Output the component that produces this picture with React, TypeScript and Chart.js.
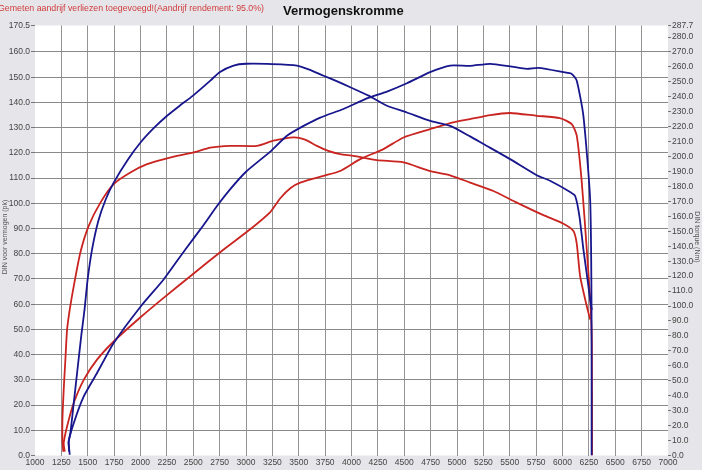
import React, { useEffect, useRef } from "react";
import { Chart, registerables } from "chart.js";

Chart.register(...registerables);

// ---- axis ticks ----
const rpmTicks = [1000, 1250, 1500, 1750, 2000, 2250, 2500, 2750, 3000, 3250, 3500, 3750, 4000, 4250, 4500, 4750, 5000, 5250, 5500, 5750, 6000, 6250, 6500, 6750, 7000];
const pkTicks = [0, 10, 20, 30, 40, 50, 60, 70, 80, 90, 100, 110, 120, 130, 140, 150, 160, 170.5];
const nmTicks = [0, 10, 20, 30, 40, 50, 60, 70, 80, 90, 100, 110, 120, 130, 140, 150, 160, 170, 180, 190, 200, 210, 220, 230, 240, 250, 260, 270, 280, 287.7];

// ---- tuned (blue) power, pk ----
const bluePowerRpm = [1325, 1319, 1367, 1462, 1588, 1746, 2000, 2219, 2425, 2600, 2725, 2851, 3000, 3230, 3388, 3546, 3704, 3924, 4146, 4336, 4525, 4745, 4935, 5124, 5316, 5503, 5661, 5772, 6009, 6088, 6135, 6198, 6262, 6275, 6276];
const bluePowerPk = [1.5, 5.5, 12.8, 23.4, 32.7, 44.6, 59, 69.8, 81.7, 91.5, 98.9, 105.6, 112.5, 120.5, 126.8, 130.7, 134, 137.4, 141.6, 144.3, 147.6, 152, 154.6, 154.5, 155.3, 154.3, 153.3, 153.7, 152, 151.3, 148.6, 134.7, 101.6, 60, 0];

// ---- tuned (blue) torque, Nm ----
const blueTorqueRpm = [1329, 1319, 1335, 1365, 1399, 1440, 1470, 1499, 1541, 1600, 1670, 1746, 1875, 2000, 2125, 2252, 2375, 2498, 2662, 2750, 2882, 3000, 3250, 3483, 3600, 3735, 3870, 3988, 4162, 4336, 4525, 4745, 4935, 5124, 5251, 5503, 5756, 5882, 6072, 6120, 6160, 6198, 6240, 6262, 6278];
const blueTorqueNm = [0.5, 9.3, 14.8, 33.7, 55.2, 81.0, 97.9, 117.8, 137.9, 156.9, 171.3, 182.6, 197.4, 209.4, 219.0, 227.3, 234.2, 240.8, 250.8, 256.5, 260.9, 262.1, 261.9, 260.9, 258.2, 254.1, 250.1, 246.4, 240.8, 234.0, 229.5, 223.9, 220.5, 213.5, 208.4, 198.3, 187.5, 183.8, 176.3, 173.6, 160.3, 137.9, 116.4, 104.3, 97.5];

// ---- stock (red) power, pk ----
const redPowerRpm = [1282, 1272, 1304, 1367, 1462, 1588, 1746, 2000, 2219, 2472, 2788, 3040, 3230, 3325, 3420, 3514, 3735, 3893, 4082, 4303, 4493, 4745, 4935, 5124, 5316, 5503, 5756, 5975, 6088, 6135, 6183, 6230, 6265, 6278, 6280];
const redPowerPk = [1.5, 4.9, 11.5, 20.8, 30, 38, 45.2, 54.8, 62.5, 71.1, 81.7, 89.7, 96.5, 102, 106, 108.2, 110.9, 112.8, 117.5, 121.5, 126.1, 129.4, 131.8, 133.4, 135, 135.8, 134.7, 133.8, 131.4, 126.8, 108.2, 81.7, 60, 45, 0];

// ---- stock (red) torque, Nm ----
const redTorqueRpm = [1268, 1260, 1260, 1272, 1288, 1304, 1330, 1367, 1430, 1509, 1620, 1746, 1904, 2062, 2252, 2503, 2662, 2851, 3104, 3261, 3451, 3560, 3672, 3780, 3893, 4019, 4240, 4493, 4745, 4935, 5124, 5345, 5567, 5819, 6009, 6104, 6135, 6167, 6220, 6262];
const redTorqueNm = [2.5, 10.1, 23.6, 43.9, 64.1, 84.2, 97.9, 113.2, 135.8, 153.6, 169.2, 181.6, 189.3, 194.9, 198.8, 202.8, 206.0, 207.2, 207.2, 210.6, 212.8, 211.3, 207.2, 203.8, 201.6, 200.5, 197.6, 196.1, 190.3, 187.5, 182.6, 177.0, 169.2, 160.8, 155.1, 150.2, 141.7, 120.0, 102.9, 91.0];

const noteText = "Gemeten aandrijf verliezen toegevoegd!(Aandrijf rendement: 95.0%)";
const titleText = "Vermogenskromme";
const leftTitle = "DIN voor vermogen (pk)";
const rightTitle = "DIN torque (Nm)";

const BLUE = "#17168c";
const RED = "#c92420";
const FONT = "'Liberation Sans', Arial, sans-serif";

const pts = (xs: number[], ys: number[]) => xs.map((x, i) => ({ x, y: ys[i] }));

const decorPlugin = {
  id: "decor",
  beforeDraw(chart: any) {
    const { ctx, chartArea: a, width, height } = chart;
    ctx.save();
    ctx.fillStyle = "#e6e6ea";
    ctx.fillRect(0, 0, width, height);
    ctx.fillStyle = "#ffffff";
    ctx.fillRect(a.left, a.top, a.right - a.left, a.bottom - a.top);
    ctx.restore();
  },
  afterDraw(chart: any) {
    const { ctx } = chart;
    ctx.save();
    ctx.textBaseline = "alphabetic";
    ctx.fillStyle = "#d03a3a";
    ctx.font = `8.8px ${FONT}`;
    ctx.textAlign = "left";
    ctx.fillText(noteText, -2, 11);
    ctx.fillStyle = "#111111";
    ctx.font = `bold 13px ${FONT}`;
    ctx.fillText(titleText, 283, 15);
    ctx.fillStyle = "#555555";
    ctx.font = `7px ${FONT}`;
    ctx.textAlign = "center";
    ctx.textBaseline = "middle";
    ctx.translate(5, 237);
    ctx.rotate(-Math.PI / 2);
    ctx.fillText(leftTitle, 0, 0);
    ctx.restore();
    ctx.save();
    ctx.fillStyle = "#555555";
    ctx.font = `7px ${FONT}`;
    ctx.textAlign = "center";
    ctx.textBaseline = "middle";
    ctx.translate(697, 237);
    ctx.rotate(Math.PI / 2);
    ctx.fillText(rightTitle, 0, 0);
    ctx.restore();
  },
};

export default function App() {
  const ref = useRef<HTMLCanvasElement | null>(null);
  useEffect(() => {
    if (!ref.current) return;
    const line = (label: string, data: any, color: string, axis: string) => ({
      label,
      data,
      borderColor: color,
      backgroundColor: color,
      borderWidth: 1.8,
      pointRadius: 0,
      tension: 0.2,
      yAxisID: axis,
      fill: false,
    });
    const chart = new Chart(ref.current, {
      type: "line",
      data: {
        datasets: [
          line("Vermogen (getuned)", pts(bluePowerRpm, bluePowerPk), BLUE, "y"),
          line("Koppel (getuned)", pts(blueTorqueRpm, blueTorqueNm), BLUE, "y2"),
          line("Vermogen (standaard)", pts(redPowerRpm, redPowerPk), RED, "y"),
          line("Koppel (standaard)", pts(redTorqueRpm, redTorqueNm), RED, "y2"),
        ],
      },
      plugins: [decorPlugin],
      options: {
        animation: false,
        responsive: false,
        parsing: true,
        layout: { padding: { top: 25.5, left: 0, right: 0, bottom: 0 } },
        plugins: { legend: { display: false }, tooltip: { enabled: false }, title: { display: false } },
        scales: {
          x: {
            type: "linear",
            min: 1000,
            max: 7000,
            afterBuildTicks: (s: any) => { s.ticks = rpmTicks.map((v) => ({ value: v })); },
            afterFit: (s: any) => { s.height = 14.5; },
            ticks: {
              autoSkip: false,
              maxRotation: 0,
              padding: 2,
              color: "#444",
              font: { family: FONT, size: 8.5 },
              callback: (v: any) => String(v),
            },
            grid: {
              color: (c: any) => (c.tick && (c.tick.value === 1000 || c.tick.value === 7000) ? "rgba(0,0,0,0)" : "#949494"),
              lineWidth: 1,
              drawTicks: false,
            },
            border: { display: false },
          },
          y: {
            type: "linear",
            position: "left",
            min: 0,
            max: 170.5,
            afterBuildTicks: (s: any) => { s.ticks = pkTicks.map((v) => ({ value: v })); },
            afterFit: (s: any) => { s.width = 35; },
            ticks: {
              autoSkip: false,
              padding: 1,
              color: "#444",
              font: { family: FONT, size: 8.5 },
              callback: (v: any) => Number(v).toFixed(1),
            },
            grid: {
              color: (c: any) => (c.tick && (c.tick.value === 0 || c.tick.value === 170.5) ? "rgba(0,0,0,0)" : "#8a8a8a"),
              lineWidth: 1,
              tickLength: 4,
              tickColor: "#777",
            },
            border: { display: false },
          },
          y2: {
            type: "linear",
            position: "right",
            min: 0,
            max: 287.7,
            afterBuildTicks: (s: any) => { s.ticks = nmTicks.map((v) => ({ value: v })); },
            afterFit: (s: any) => { s.width = 34; },
            ticks: {
              autoSkip: false,
              padding: 1,
              color: "#444",
              font: { family: FONT, size: 8.5 },
              callback: (v: any) => Number(v).toFixed(1),
            },
            grid: {
              drawOnChartArea: false,
              tickLength: 3,
              tickColor: "#777",
            },
            border: { display: false },
          },
        },
      },
    } as any);
    return () => chart.destroy();
  }, []);
  return (
    <div style={{ position: "fixed", left: 0, top: 0, width: 702, height: 470, background: "#e6e6ea" }}>
      <canvas ref={ref} width={702} height={470} style={{ width: 702, height: 470, display: "block" }} />
    </div>
  );
}
